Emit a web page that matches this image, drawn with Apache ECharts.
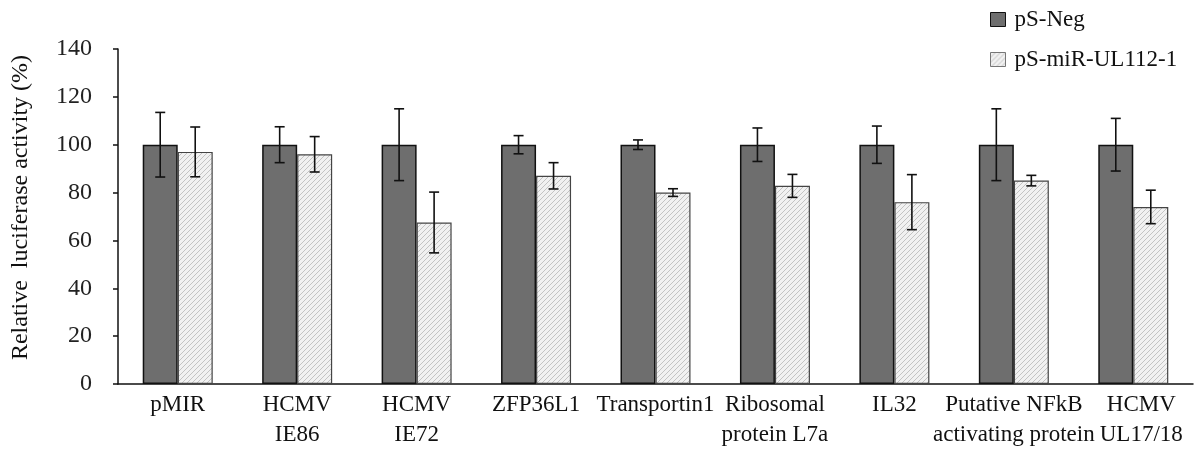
<!DOCTYPE html>
<html>
<head>
<meta charset="utf-8">
<script src="https://cdn.jsdelivr.net/npm/echarts@6/dist/echarts.min.js"></script>
<style>
html,body{margin:0;padding:0;background:#fff;}
#chart{width:1200px;height:457px;}
</style>
</head>
<body>
<div id="chart"></div>
<script>
var categories = ['pMIR','HCMV\nIE86','HCMV\nIE72','ZFP36L1','Transportin1','Ribosomal\nprotein L7a','IL32','Putative NFkB\nactivating protein','HCMV\nUL17/18'];
var negValues = [100,100,100,100,100,100,100,100,100];
var negErr = [13.5,7.5,15,3.8,2,7,7.8,15,11];
var mirValues = [97,96,67.5,87,80,82.8,76,85,74];
var mirErr = [10.4,7.4,12.7,5.5,1.6,4.8,11.5,2.2,7];
var yTicks = [0,20,40,60,80,100,120,140];

var SERIF = '"Liberation Serif","DejaVu Serif",serif';

function makePattern(){
  var c = document.createElement('canvas');
  c.width = 5; c.height = 5;
  var ctx = c.getContext('2d');
  ctx.fillStyle = '#f1f1f1';
  ctx.fillRect(0,0,5,5);
  ctx.strokeStyle = '#bdbdbd';
  ctx.lineWidth = 0.9;
  ctx.beginPath();
  ctx.moveTo(-1,6); ctx.lineTo(6,-1);
  ctx.moveTo(-1,1); ctx.lineTo(1,-1);
  ctx.moveTo(4,6); ctx.lineTo(6,4);
  ctx.stroke();
  return c;
}
var pattern = makePattern();

var BAR_W = 35;

function errSeries(values, errs, offset){
  var data = values.map(function(v,i){ return [i, v, errs[i]]; });
  return {
    type: 'custom',
    data: data,
    z: 10,
    silent: true,
    renderItem: function(params, api){
      var idx = api.value(0), v = api.value(1), e = api.value(2);
      var top = api.coord([idx, v + e]);
      var bot = api.coord([idx, v - e]);
      var x = top[0] + offset;
      var half = 5;
      var st = {stroke:'#111', lineWidth:1.6};
      return {type:'group', children:[
        {type:'line', shape:{x1:x, y1:top[1], x2:x, y2:bot[1]}, style:st},
        {type:'line', shape:{x1:x-half, y1:top[1], x2:x+half, y2:top[1]}, style:st},
        {type:'line', shape:{x1:x-half, y1:bot[1], x2:x+half, y2:bot[1]}, style:st}
      ]};
    }
  };
}

var xData = categories.map(function(c, i){
  if (i === categories.length - 1) {
    return {value: c, textStyle: {padding: [0, 0, 0, 16]}};
  }
  return c;
});

var chart = echarts.init(document.getElementById('chart'));
chart.setOption({
  animation: false,
  backgroundColor: '#fff',
  grid: {left: 118, right: 7, top: 49, bottom: 73},
  legend: {
    orient: 'vertical',
    left: 985, top: 3,
    itemWidth: 15, itemHeight: 14,
    itemGap: 17,
    icon: 'rect',
    textStyle: {fontFamily: SERIF, fontSize: 23, lineHeight: 23, color: '#111', padding:[0,0,0,4]},
    data: [
      {name:'pS-Neg', itemStyle:{color:'#6e6e6e', borderColor:'#111', borderWidth:1}},
      {name:'pS-miR-UL112-1', itemStyle:{color:{image:pattern, repeat:'repeat'}, borderColor:'#777', borderWidth:1}}
    ]
  },
  xAxis: {
    type: 'category',
    data: xData,
    axisLine: {lineStyle:{color:'#111', width:1.5}},
    axisTick: {inside:true, length:7, lineStyle:{color:'#111', width:1.5}},
    axisLabel: {
      fontFamily: SERIF, fontSize: 23, color:'#111', lineHeight: 30,
      margin: 6, interval: 0
    }
  },
  yAxis: {
    type: 'value',
    min: 0, max: 140, interval: 20,
    name: 'Relative  luciferase activity (%)',
    nameLocation: 'middle',
    nameGap: 85,
    nameTextStyle: {fontFamily: SERIF, fontSize: 24, color:'#111', padding:[0,0,0,18]},
    splitLine: {show:false},
    axisLine: {show:true, lineStyle:{color:'#111', width:1.5}},
    axisTick: {show:true, length:5, lineStyle:{color:'#111', width:1.5}},
    axisLabel: {
      fontFamily: SERIF, fontSize: 24, color:'#222', margin: 26,
      formatter: function(v){ return yTicks.indexOf(v) >= 0 ? String(v) : ''; }
    }
  },
  series: [
    {
      name: 'pS-Neg', type: 'bar', data: negValues,
      barWidth: BAR_W, barGap: '0%',
      itemStyle: {color:'#6e6e6e', borderColor:'#111', borderWidth:1.5}
    },
    {
      name: 'pS-miR-UL112-1', type: 'bar', data: mirValues,
      barWidth: BAR_W, barGap: '0%',
      itemStyle: {color:{image:pattern, repeat:'repeat'}, borderColor:'#444', borderWidth:1.2}
    },
    errSeries(negValues, negErr, -BAR_W/2),
    errSeries(mirValues, mirErr, BAR_W/2)
  ]
});
</script>
</body>
</html>
